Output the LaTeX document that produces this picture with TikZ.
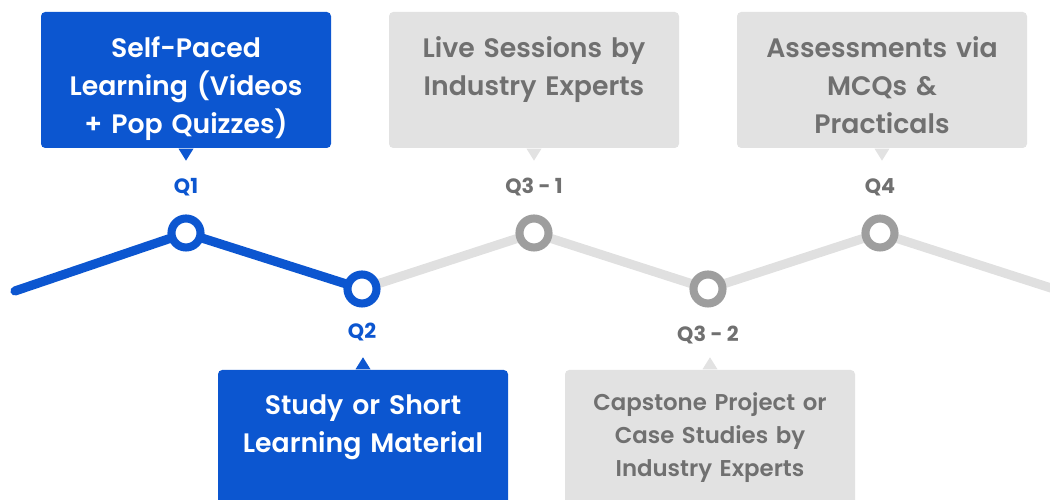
\documentclass[tikz,border=0pt]{standalone}
\usepackage{fontspec}
\IfFontExistsTF{Poppins SemiBold}
	{\setmainfont{Poppins SemiBold}[BoldFont={Poppins Bold}]}
	{\setmainfont{Poppins}}
\usetikzlibrary{positioning,backgrounds}
\definecolor{qblue}{RGB}{12,86,208}
\definecolor{qgrey}{RGB}{158,158,158}
\definecolor{qlight}{RGB}{224,224,224}
\definecolor{qbox}{RGB}{226,226,226}
\definecolor{qtext}{RGB}{112,112,112}

\begin{document}
\begin{tikzpicture}[
	track/.style = {line width=2.6pt, line cap=round, line join=round},
	stop/.style = {circle, draw, fill=white, line width=2.3pt, minimum size=0.29cm, inner sep=0pt},
	callbox/.style = {rectangle, rounded corners=1.2pt, minimum width=2.9cm, minimum height=1.36cm, inner sep=0pt},
	calltext/.style = {text width=2.8cm, align=center, inner sep=0pt, font=\fontsize{7.6}{10.8}\selectfont},
	qlabel/.style = {font=\fontsize{5.9}{7}\selectfont\bfseries}
]
	\useasboundingbox (0,0) rectangle (10.5,5);
	\clip (0,0) rectangle (10.5,5);
	\coordinate (start) at (0.15,2.09);
	\coordinate (end) at (10.54,2.11);
	\node [stop, draw=qblue] (q1) at (1.86,2.67) {};
	\node [stop, draw=qblue] (q2) at (3.62,2.11) {};
	\node [stop, draw=qgrey] (q3) at (5.34,2.67) {};
	\node [stop, draw=qgrey] (q4) at (7.08,2.11) {};
	\node [stop, draw=qgrey] (q5) at (8.80,2.67) {};
	\begin{scope}[on background layer]
		\draw [track, qblue] (start) -- (q1.center) -- (q2.center);
		\draw [track, qlight] (q2.center) -- (q3.center) -- (q4.center) -- (q5.center) -- (end);
	\end{scope}
	\node [qlabel, text=qblue] (l1) at (1.86,3.13) {Q1};
	\node [qlabel, text=qblue] (l2) at (3.62,1.68) {Q2};
	\node [qlabel, text=qtext] (l3) at (5.34,3.13) {Q3 - 1};
	\node [qlabel, text=qtext] (l4) at (7.08,1.65) {Q3 - 2};
	\node [qlabel, text=qtext] (l5) at (8.80,3.13) {Q4};
	% upper boxes
	\node [callbox, fill=qblue] (b1) at (1.86,4.20) {};
	\fill [qblue] ([xshift=-0.075cm]b1.south) -- ([yshift=-0.12cm]b1.south) -- ([xshift=0.075cm]b1.south) -- cycle;
	\node [calltext, text=white, below=0.25cm of b1.north] (t1) {Self-Paced\\Learning (Videos\\+ Pop Quizzes)};
	\node [callbox, fill=qbox] (b3) at (5.34,4.20) {};
	\fill [qbox] ([xshift=-0.075cm]b3.south) -- ([yshift=-0.12cm]b3.south) -- ([xshift=0.075cm]b3.south) -- cycle;
	\node [calltext, text=qtext, below=0.25cm of b3.north] (t3) {Live Sessions by\\Industry Experts};
	\node [callbox, fill=qbox] (b5) at (8.82,4.20) {};
	\fill [qbox] ([xshift=-0.075cm]b5.south) -- ([yshift=-0.12cm]b5.south) -- ([xshift=0.075cm]b5.south) -- cycle;
	\node [calltext, text=qtext, below=0.25cm of b5.north] (t5) {Assessments via\\MCQs \&\\Practicals};
	% lower boxes
	\node [callbox, fill=qblue] (b2) at (3.63,0.62) {};
	\fill [qblue] ([xshift=-0.075cm]b2.north) -- ([yshift=0.12cm]b2.north) -- ([xshift=0.075cm]b2.north) -- cycle;
	\node [calltext, text=white, below=0.25cm of b2.north] (t2) {Study or Short\\Learning Material};
	\node [callbox, fill=qbox] (b4) at (7.10,0.62) {};
	\fill [qbox] ([xshift=-0.075cm]b4.north) -- ([yshift=0.12cm]b4.north) -- ([xshift=0.075cm]b4.north) -- cycle;
	\node [calltext, text=qtext, below=0.23cm of b4.north, font=\fontsize{6.5}{9.4}\selectfont] (t4) {Capstone Project or\\Case Studies by\\Industry Experts};
\end{tikzpicture}
\end{document}
